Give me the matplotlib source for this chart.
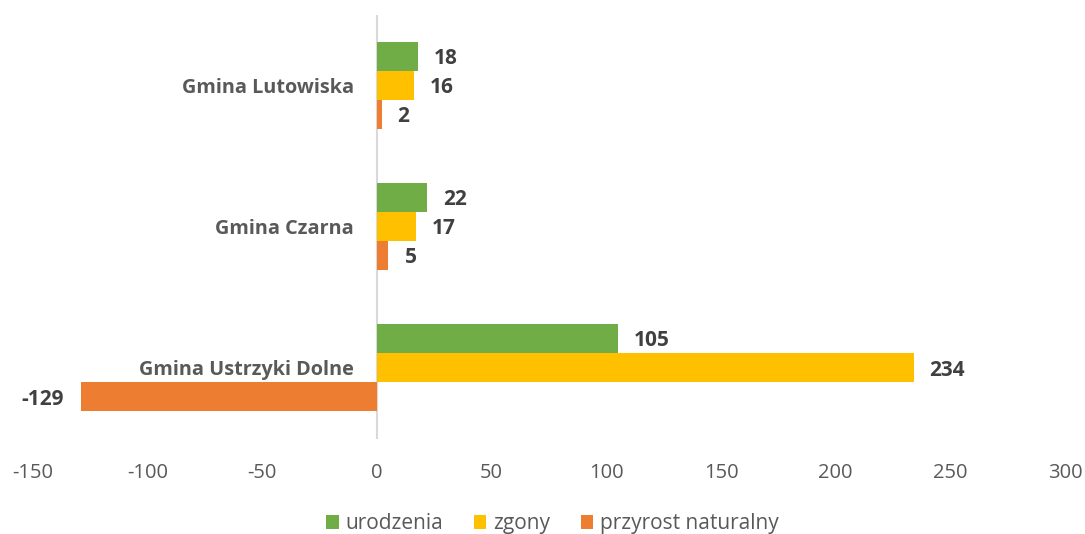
import numpy as np
import matplotlib.pyplot as plt

plt.rcParams['font.family'] = ['Open Sans', 'DejaVu Sans']

categories = ['Gmina Ustrzyki Dolne', 'Gmina Czarna', 'Gmina Lutowiska']
series_names = ['urodzenia', 'zgony', 'przyrost naturalny']
urodzenia = [105, 22, 18]
zgony = [234, 17, 16]
przyrost = [-129, 5, 2]
x_ticks = [-150, -100, -50, 0, 50, 100, 150, 200, 250, 300]

colors = ['#70AD47', '#FFC000', '#ED7D31']
txt_gray = '#595959'
lbl_gray = '#404040'

fig = plt.figure(figsize=(10.85, 5.34), dpi=100)
ax = fig.add_axes([0.0304, 0.1788, 0.9512, 0.7931])

y = np.arange(len(categories))
h = 0.2057
offsets = [h, 0, -h]
for vals, name, col, off in zip([urodzenia, zgony, przyrost], series_names, colors, offsets):
  bars = ax.barh(y + off, vals, height=h, color=col, label=name)
  for b, v in zip(bars, vals):
    yc = b.get_y() + b.get_height() / 2
    if v >= 0:
      ax.annotate(str(v), (v, yc), xytext=(11.5, -1.5), textcoords='offset points',
                  ha='left', va='center', fontsize=15, fontweight='bold', color=lbl_gray)
    else:
      ax.annotate(str(v), (v, yc), xytext=(-12.5, -1.5), textcoords='offset points',
                  ha='right', va='center', fontsize=15, fontweight='bold', color=lbl_gray)

# category labels sit next to the zero axis
for yi, cat in zip(y, categories):
  ax.annotate(cat, (0, yi), xytext=(-16.5, -1.5), textcoords='offset points',
              ha='right', va='center', fontsize=14.3, fontweight='bold', color=txt_gray)

ax.axvline(0, color='#d9d9d9', lw=1.5, zorder=0)
ax.set_xlim(-150, 300)
ax.set_ylim(-0.5, 2.5)
ax.set_xticks(x_ticks)
ax.set_xticklabels([str(t) for t in x_ticks])
ax.tick_params(axis='x', length=0, pad=17.5, labelsize=14.5, labelcolor=txt_gray)
ax.set_yticks([])
for s in ax.spines.values():
  s.set_visible(False)

handles, labels = ax.get_legend_handles_labels()
fig.legend(handles, labels, loc='center', bbox_to_anchor=(0.509, 0.019), ncol=3,
           frameon=False, fontsize=15, labelcolor=txt_gray, handlelength=0.6,
           handleheight=0.6, handletextpad=0.3, columnspacing=1.5)

plt.savefig('out.png', dpi=100)
